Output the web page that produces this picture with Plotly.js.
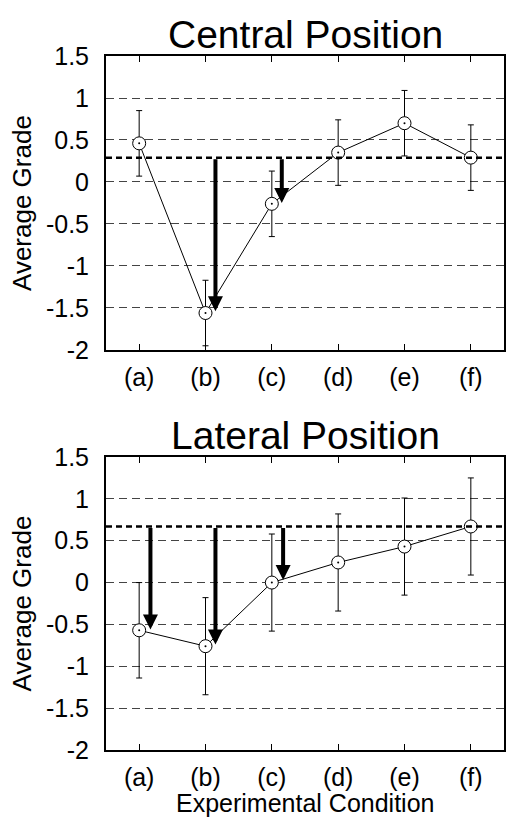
<!DOCTYPE html>
<html><head><meta charset="utf-8">
<script src="https://cdn.plot.ly/plotly-3.0.1.min.js"></script>
<style>body{margin:0;padding:0;background:#fff}#c{width:506px;height:820px}</style>
</head><body><div id="c"></div>
<script>
const conditions = ['(a)','(b)','(c)','(d)','(e)','(f)'];
const xPos = [0,1,2,3,4,5];
const centralMean = [0.46, -1.56, -0.26, 0.35, 0.70, 0.29];
const centralErr  = [0.39, 0.39, 0.39, 0.39, 0.39, 0.39];
const lateralMean = [-0.57, -0.76, 0.00, 0.24, 0.43, 0.67];
const lateralErr  = [0.57, 0.58, 0.58, 0.58, 0.58, 0.58];
const centralRef = 0.29;
const lateralRef = 0.67;
const centralArrows = [{x:1.15, tip:-1.54}, {x:2.15, tip:-0.25}];
const lateralArrows = [{x:0.17, tip:-0.56}, {x:1.15, tip:-0.74}, {x:2.17, tip:0.03}];
const yTicks = [-2,-1.5,-1,-0.5,0,0.5,1,1.5];
const yTickText = ['-2','-1.5','-1','-0.5','0','0.5','1','1.5'];

const FONT = 'Liberation Sans, Arial, sans-serif';

function traces(mean, err, xa, ya){
  return [
    {x:xPos, y:mean, xaxis:xa, yaxis:ya, type:'scatter', mode:'lines+markers',
     line:{color:'#000', width:1},
     marker:{symbol:'circle', size:13, color:'#fff', line:{color:'#000', width:1}},
     error_y:{type:'data', array:err, visible:true, color:'#000', thickness:1, width:3},
     showlegend:false, hoverinfo:'skip'},
    {x:xPos, y:mean, xaxis:xa, yaxis:ya, type:'scatter', mode:'markers',
     marker:{symbol:'circle', size:2, color:'#000'}, showlegend:false, hoverinfo:'skip'}
  ];
}

const data = [].concat(traces(centralMean, centralErr, 'x', 'y'), traces(lateralMean, lateralErr, 'x2', 'y2'));

function xaxis(anchor){
  return {range:[-0.5,5.5], tickvals:xPos, ticktext:conditions, anchor:anchor,
    showgrid:false, zeroline:false, showline:true, linecolor:'#000', linewidth:2, mirror:'ticks',
    ticks:'inside', ticklen:6, tickwidth:1, tickcolor:'#000', ticklabelstandoff:4,
    tickfont:{family:FONT, size:25, color:'#000'}, fixedrange:true};
}
function yaxis(anchor, domain){
  return {range:[-2,1.5], domain:domain, anchor:anchor, tickvals:yTicks, ticktext:yTickText,
    showgrid:true, gridcolor:'#444', gridwidth:1, griddash:'8px,5px',
    zeroline:false, showline:true, linecolor:'#000', linewidth:2, mirror:true,
    ticks:'', ticklabelstandoff:10,
    tickfont:{family:FONT, size:25, color:'#000'}, fixedrange:true};
}

const shapes = [
  {type:'line', xref:'x domain', yref:'y', x0:0, x1:1, y0:centralRef, y1:centralRef, line:{color:'#000', width:2.5, dash:'6px,4px'}},
  {type:'line', xref:'x2 domain', yref:'y2', x0:0, x1:1, y0:lateralRef, y1:lateralRef, line:{color:'#000', width:2.5, dash:'6px,4px'}}
];

const annotations = [];
centralArrows.forEach(a => annotations.push({x:a.x, y:a.tip, ax:a.x, ay:centralRef, xref:'x', yref:'y', axref:'x', ayref:'y',
  showarrow:true, arrowhead:2, arrowsize:0.75, arrowwidth:4, arrowcolor:'#000', text:''}));
lateralArrows.forEach(a => annotations.push({x:a.x, y:a.tip, ax:a.x, ay:lateralRef, xref:'x2', yref:'y2', axref:'x2', ayref:'y2',
  showarrow:true, arrowhead:2, arrowsize:0.75, arrowwidth:4, arrowcolor:'#000', text:''}));
annotations.push({text:'Central Position', xref:'x domain', yref:'y domain', x:0.5, y:1, yanchor:'bottom', yshift:-2,
  showarrow:false, font:{family:FONT, size:39, color:'#000'}});
annotations.push({text:'Lateral Position', xref:'x2 domain', yref:'y2 domain', x:0.5, y:1, yanchor:'bottom', yshift:-2,
  showarrow:false, font:{family:FONT, size:39, color:'#000'}});
annotations.push({text:'Average Grade', textangle:-90, xref:'x domain', yref:'y domain', x:0, y:0.5, xanchor:'center', yanchor:'middle', xshift:-84,
  showarrow:false, font:{family:FONT, size:26, color:'#000'}});
annotations.push({text:'Average Grade', textangle:-90, xref:'x2 domain', yref:'y2 domain', x:0, y:0.5, xanchor:'center', yanchor:'middle', xshift:-84,
  showarrow:false, font:{family:FONT, size:26, color:'#000'}});
annotations.push({text:'Experimental Condition', xref:'x2 domain', yref:'y2 domain', x:0.5, y:0, xanchor:'center', yanchor:'middle', yshift:-53,
  showarrow:false, font:{family:FONT, size:25, color:'#000'}});

const layout = {
  width:506, height:820, margin:{l:106, r:2, t:56, b:70},
  paper_bgcolor:'#fff', plot_bgcolor:'#fff',
  xaxis: xaxis('y'), yaxis: yaxis('x', [0.5764, 1]),
  xaxis2: xaxis('y2'), yaxis2: yaxis('x2', [0, 0.4222]),
  shapes: shapes, annotations: annotations, showlegend:false
};

Plotly.newPlot('c', data, layout, {displayModeBar:false, staticPlot:true});
</script></body></html>
